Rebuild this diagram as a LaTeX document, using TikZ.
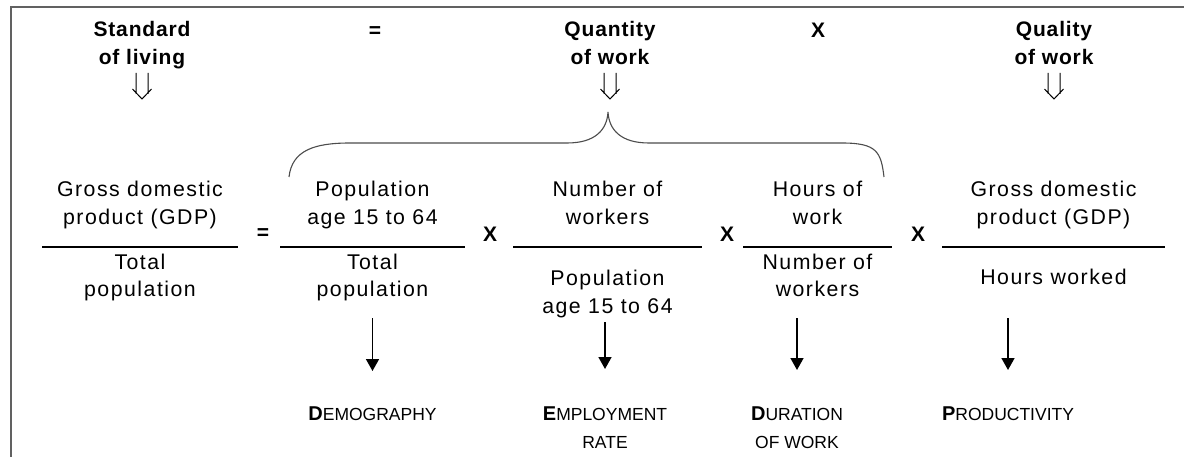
\documentclass[tikz,border=0pt]{standalone}
\usepackage{fontspec}
\setmainfont{Liberation Sans}
\newfontfamily\bodyfam{Liberation Sans}[LetterSpace=7]
\newfontfamily\headfam{Liberation Sans}[LetterSpace=4]
\usetikzlibrary{arrows.meta}
\newcommand\initial[1]{{\fontsize{20}{28}\selectfont\bfseries #1}}
\tikzset{
  dbl/.pic={\draw[line width=1pt] (-6,0) -- (-6,21) (6,0) -- (6,21) (-9.5,16) -- (0,26) -- (9.5,16);}
}
\begin{document}
\begin{tikzpicture}[x=1pt,y=-1pt,
  body/.style={font=\bodyfam\fontsize{21.3}{28}\selectfont, align=center, inner sep=0pt, anchor=base},
  head/.style={font=\headfam\bfseries\fontsize{21}{28.3}\selectfont, align=center, inner sep=0pt, anchor=base},
  op/.style={font=\bfseries\fontsize{21}{25}\selectfont, inner sep=0pt, anchor=base},
  lab/.style={font=\fontsize{17.5}{28}\selectfont, align=center, inner sep=0pt, anchor=base},
  fracline/.style={line width=1.2pt},
  frame/.style={draw=black!62, line width=2pt},
  brace/.style={draw=black!70, line width=1.1pt},
  down/.style={line width=1.6pt, -{Triangle[length=12pt,width=13pt]}}
]
\useasboundingbox (0,0) rectangle (1184,457);
\draw[frame] (1184,7.5) -- (10.5,7.5) -- (10.5,457);

% top row (base anchor = baseline of the last line)
\node[head] (sol) at (142,65) {Standard\\of living};
\node[op] (eqtop) at (375,37.3) {=};
\node[head] (qty) at (610,65) {Quantity\\of work};
\node[op] (xtop) at (818,38) {X};
\node[head] (qly) at (1054,65) {Quality\\of work};

\pic at (sol.south |- 0,73) {dbl};
\pic at (qty.south |- 0,73) {dbl};
\pic at (qly.south |- 0,73) {dbl};

% brace
\draw[brace] (289,177) .. controls (292,150) and (315,143) .. (350,143)
  -- (567,143) .. controls (595,143) and (607,130) .. (608,112)
  .. controls (609,130) and (621,143) .. (649,143)
  -- (842,143) .. controls (877,143) and (881,152) .. (884,177);

% fractions
\node[body] (n1) at (140,225) {Gross domestic\\product (GDP)};
\node[body] (d1) at (140,297) {Total\\population};
\draw[fracline] (42,247) -- (238,247);
\node[op] (eq1) at (263,239.3) {=};

\node[body] (n2) at (372.5,225) {Population\\age 15 to 64};
\node[body] (d2) at (372.5,297) {Total\\population};
\draw[fracline] (280,247) -- (465,247);
\node[op] (x1) at (490,242) {X};

\node[body] (n3) at (607.5,225) {Number of\\workers};
\node[body] (d3) at (607.5,313) {Population\\age 15 to 64};
\draw[fracline] (513,247) -- (702,247);
\node[op] (x2) at (727,242) {X};

\node[body] (n4) at (817.5,225) {Hours of\\work};
\node[body] (d4) at (817.5,297) {Number of\\workers};
\draw[fracline] (743,247) -- (892,247);
\node[op] (x3) at (918,242) {X};

\node[body] (n5) at (1053.5,225) {Gross domestic\\product (GDP)};
\node[body] (d5) at (1053.5,285) {Hours worked};
\draw[fracline] (942,247) -- (1165,247);

% bottom labels
\node[lab] (l1) at (372.5,420) {\initial{D}EMOGRAPHY};
\node[lab] (l2) at (605,448) {\initial{E}MPLOYMENT\\RATE};
\node[lab] (l3) at (797,448) {\initial{D}URATION\\OF WORK};
\node[lab] (l4) at (1008,420) {\initial{P}RODUCTIVITY};

\draw[down] (l1.north |- 0,318) -- (l1.north |- 0,371);
\draw[down] (l2.north |- 0,322) -- (l2.north |- 0,369);
\draw[down] (l3.north |- 0,318) -- (l3.north |- 0,370);
\draw[down] (l4.north |- 0,318) -- (l4.north |- 0,370);
\end{tikzpicture}
\end{document}
